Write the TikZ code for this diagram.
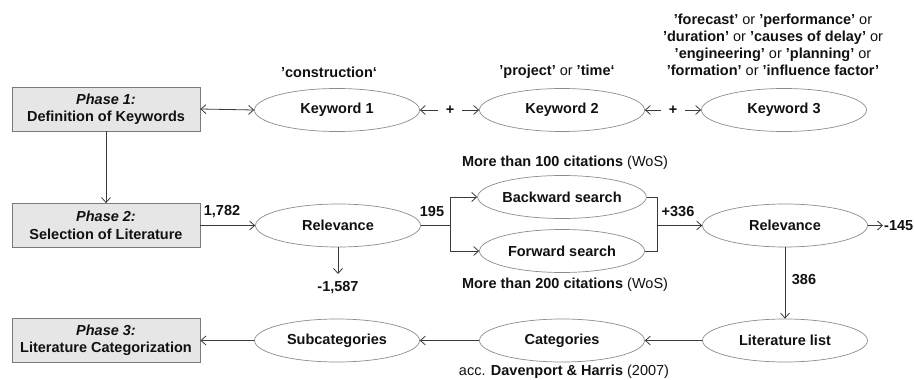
\documentclass[tikz,border=0pt]{standalone}
\usepackage{fontspec}
\setmainfont{Liberation Sans}
\usetikzlibrary{shapes.geometric,arrows.meta}
\definecolor{boxfill}{HTML}{E6E6E6}
\definecolor{boxline}{HTML}{7A7A7A}
\definecolor{ellline}{HTML}{8C8C8C}
\definecolor{conline}{HTML}{3A3A3A}
\definecolor{txt}{HTML}{111111}
\begin{document}
\begin{tikzpicture}[x=1pt,y=-1pt,
  every node/.style={text=txt,font=\fontsize{14.5}{17}\selectfont},
  phasebox/.style={rectangle,draw=boxline,fill=boxfill,line width=0.8pt,
    minimum width=188pt,minimum height=44pt,inner sep=0pt,align=center,
    font=\fontsize{14.5}{17.5}\selectfont\bfseries},
  ell/.style={ellipse,draw=ellline,line width=0.7pt,minimum width=165pt,
    minimum height=43pt,inner sep=0pt,font=\fontsize{14.5}{17}\selectfont\bfseries},
  lbl/.style={inner sep=1pt,font=\fontsize{14.5}{17}\selectfont\bfseries,align=center},
  conn/.style={draw=conline,line width=0.8pt},
  arr/.style={conn,-{Straight Barb[length=5pt,width=9pt]}},
  darr/.style={conn,{Straight Barb[length=5pt,width=9pt]}-{Straight Barb[length=5pt,width=9pt]}},
  plusnode/.style={inner sep=0pt,minimum width=24pt,font=\fontsize{14.5}{17}\selectfont\bfseries}
]
\useasboundingbox (0,0) rectangle (914,380);

% phase boxes
\node[phasebox] (p1) at (106,109) {\textit{Phase 1:}\\Definition of Keywords};
\node[phasebox] (p2) at (106,225.5) {\textit{Phase 2:}\\Selection of Literature};
\node[phasebox] (p3) at (106,340.5) {\textit{Phase 3:}\\Literature Categorization};

% keyword row
\node[ell] (k1) at (337,110) {Keyword 1};
\node[ell] (k2) at (562,110) {Keyword 2};
\node[ell] (k3) at (784,110) {Keyword 3};
\node[plusnode] (plus1) at (450,110) {+};
\node[plusnode] (plus2) at (673,110) {+};

\node[lbl] (t1) at (329,72) {’construction‘};
\node[lbl] (t2) at (557,72) {’project’ \mdseries or \bfseries ’time‘};
\node[lbl] (t3) at (773,44.5) {’forecast’ \mdseries or \bfseries ’performance’ \mdseries or\\
’duration’ \mdseries or \bfseries ’causes of delay’ \mdseries or\\
’engineering’ \mdseries or \bfseries ’planning’ \mdseries or\\
’formation’ \mdseries or \bfseries ’influence factor’};

% selection row
\node[ell] (r1) at (338,225.5) {Relevance};
\node[ell] (bs) at (562,197) {Backward search};
\node[ell] (fs) at (562,251) {Forward search};
\node[ell] (r2) at (785,225.5) {Relevance};

\node[lbl] (l100) at (565,163) {More than 100 citations \mdseries(WoS)};
\node[lbl] (l200) at (565,285) {More than 200 citations \mdseries(WoS)};
\node[lbl] (n1782) at (222,212) {1,782};
\node[lbl] (n195) at (432,212) {195};
\node[lbl] (n336) at (678,212) {+336};
\node[lbl] (n386) at (804,280) {386};
\node[lbl] (n1587) at (338,288) {-1,587};
\node[lbl,anchor=west] (n145) at (883,225.5) {-145};

\coordinate (j1) at (450,225.5);
\coordinate (j2) at (657,225.5);
\coordinate (c1587) at (338,274);

% categorization row
\node[ell] (sub) at (337,340.5) {Subcategories};
\node[ell] (cat) at (562,340.5) {Categories};
\node[ell] (ll) at (785,340.5) {Literature list};
\node[lbl] (acc) at (564,372) {\mdseries acc. \bfseries Davenport \& Harris \mdseries(2007)};

% connectors
\draw[darr] (p1.east) -- (k1.west);
\draw[arr] (plus1.west) -- (k1.east);
\draw[arr] (plus1.east) -- (k2.west);
\draw[arr] (plus2.west) -- (k2.east);
\draw[arr] (plus2.east) -- (k3.west);
\draw[arr] (p1.south) -- (p2.north);
\draw[arr] (p2.east) -- (r1.west);
\draw[conn] (r1.east) -- (j1);
\draw[arr] (j1) |- (bs.west);
\draw[arr] (j1) |- (fs.west);
\draw[conn] (bs.east) -| (j2);
\draw[conn] (fs.east) -| (j2);
\draw[arr] (j2) -- (r2.west);
\draw[arr] (r2.east) -- (n145.west);
\draw[arr] (r1.south) -- (c1587);
\draw[arr] (r2.south) -- (ll.north);
\draw[arr] (ll.west) -- (cat.east);
\draw[arr] (cat.west) -- (sub.east);
\draw[arr] (sub.west) -- (p3.east);
\end{tikzpicture}
\end{document}
